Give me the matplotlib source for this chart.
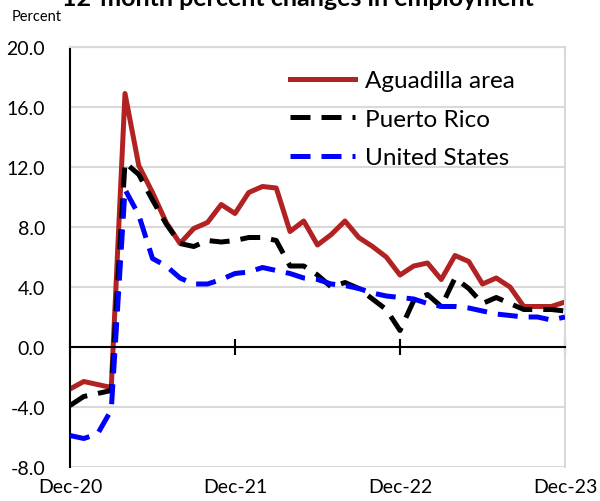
import numpy as np
import matplotlib
matplotlib.use('Agg')
import matplotlib.pyplot as plt

plt.rcParams['font.family'] = ['Lato', 'DejaVu Sans']

months = np.arange(37)  # Dec-20 .. Dec-23
xtick_pos = [0, 12, 24, 36]
xtick_lab = ['Dec-20', 'Dec-21', 'Dec-22', 'Dec-23']

aguadilla = [-2.8, -2.3, -2.5, -2.7, 16.9, 12.1, 10.3, 8.3, 6.9, 7.9, 8.3, 9.5, 8.9,
             10.3, 10.7, 10.6, 7.7, 8.4, 6.8, 7.5, 8.4, 7.3, 6.7, 6.0, 4.8, 5.4,
             5.6, 4.5, 6.1, 5.7, 4.2, 4.6, 4.0, 2.7, 2.7, 2.7, 3.0]
puerto_rico = [-3.9, -3.3, -3.1, -2.9, 12.3, 11.5, 9.8, 8.2, 6.9, 6.7, 7.1, 7.0, 7.1,
               7.3, 7.3, 7.1, 5.4, 5.4, 4.8, 4.0, 4.3, 3.9, 3.2, 2.5, 1.1, 3.1,
               3.5, 2.7, 4.6, 3.9, 2.9, 3.3, 2.9, 2.5, 2.5, 2.5, 2.4]
united_states = [-5.9, -6.1, -5.8, -4.2, 10.5, 8.8, 5.9, 5.4, 4.6, 4.2, 4.2, 4.5, 4.9,
                 5.0, 5.3, 5.1, 4.9, 4.6, 4.5, 4.2, 4.1, 3.9, 3.6, 3.4, 3.3, 3.2,
                 2.9, 2.7, 2.7, 2.6, 2.4, 2.2, 2.1, 2.0, 2.0, 1.8, 2.0]
yticks = [-8, -4, 0, 4, 8, 12, 16, 20]

fig = plt.figure(figsize=(6, 5.02), dpi=100)
ax = fig.add_axes([70/600, 1-468/502, 495/600, 420/502])

grey = '#d9d9d9'
for yv in yticks:
    ax.axhline(yv, color=grey, lw=1.5, zorder=0)

ax.plot(months, aguadilla, color='#b22222', lw=3.6, label='Aguadilla area', zorder=2)
ax.plot(months, puerto_rico, color='black', lw=3.6, dashes=(4, 2.2), label='Puerto Rico', zorder=3)
ax.plot(months, united_states, color='#0000ff', lw=3.6, dashes=(4, 2.2), label='United States', zorder=4)

ax.set_xlim(0, 36)
ax.set_ylim(-8, 20)
ax.set_yticks(yticks)
ax.set_yticklabels(['%.1f' % v for v in yticks], fontsize=14)
ax.tick_params(axis='y', length=0, pad=18)

ax.spines['left'].set_color('black')
ax.spines['left'].set_linewidth(1.5)
ax.spines['top'].set_color(grey)
ax.spines['right'].set_color(grey)
ax.spines['top'].set_linewidth(1.5)
ax.spines['right'].set_linewidth(1.5)
ax.spines['bottom'].set_position(('data', 0))
ax.spines['bottom'].set_linewidth(1.5)
ax.set_xticks(xtick_pos)
ax.set_xticklabels(xtick_lab, fontsize=14)
ax.tick_params(axis='x', direction='inout', length=12, width=1.5, pad=88)

ax.legend(loc='upper left', bbox_to_anchor=(0.444, 0.945), frameon=False,
          fontsize=17.5, handlelength=2.7, handletextpad=0.4, labelspacing=0.72,
          borderpad=0, borderaxespad=0)

fig.text(12/600, 1-17/502, 'Percent', fontsize=10.5, va='center', ha='left')
fig.text(298/600, 1-6/502, '12-month percent changes in employment', fontsize=18,
         fontweight='bold', va='baseline', ha='center')

fig.savefig('out.png', dpi=100)
